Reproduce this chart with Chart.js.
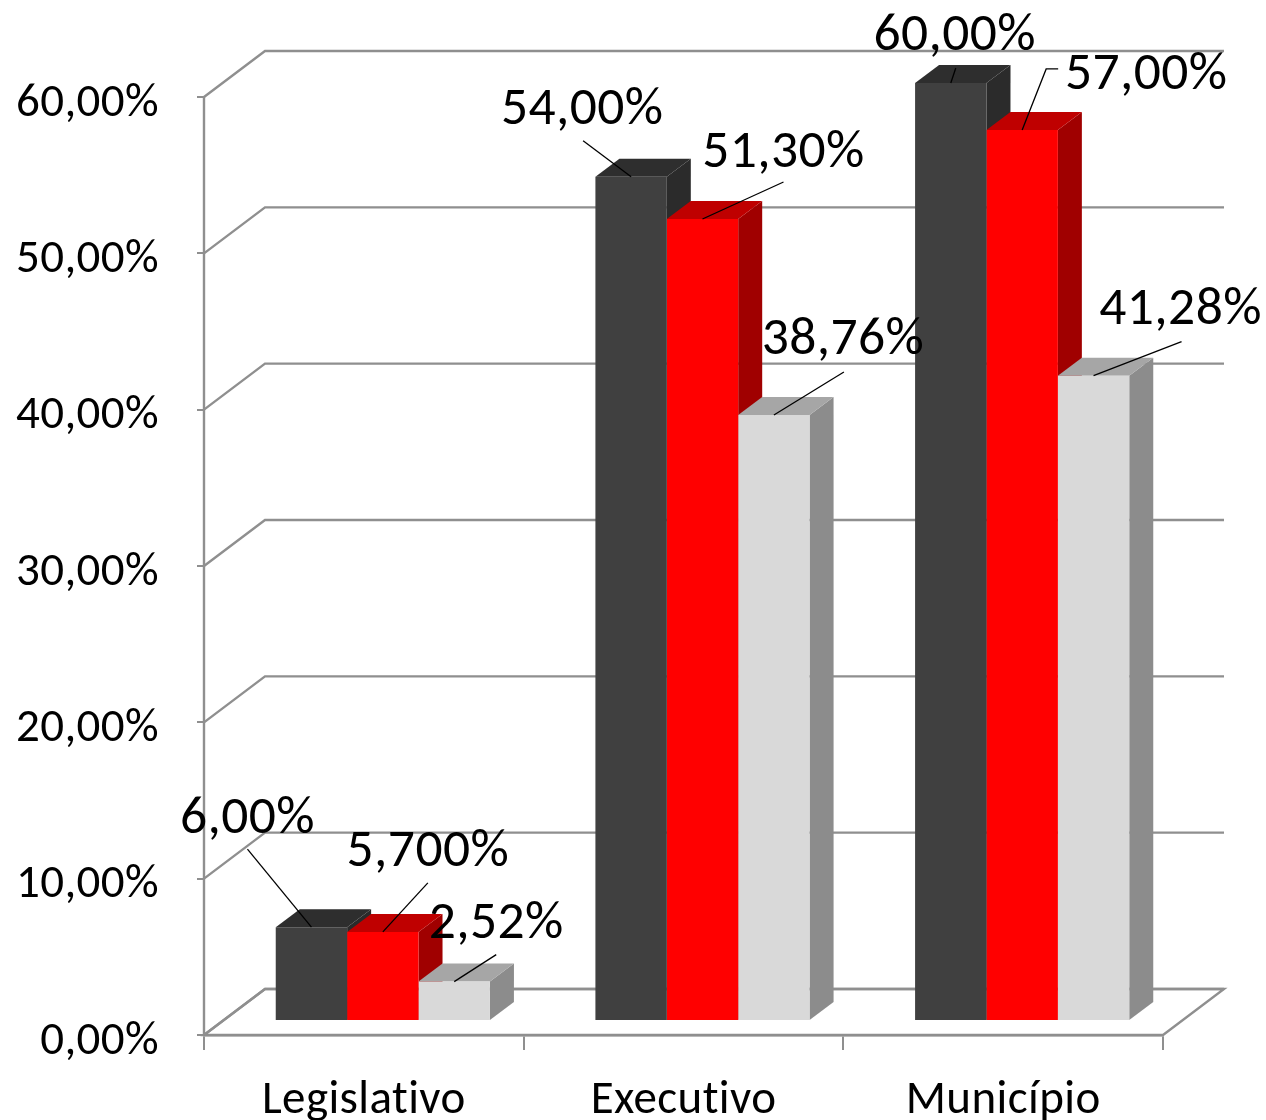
<!DOCTYPE html>
<html><head><meta charset="utf-8">
<style>html,body{margin:0;padding:0;background:#fff}#w{width:1266px;height:1120px}</style>
<script src="https://cdn.jsdelivr.net/npm/chart.js@4"></script>
</head><body><div id="w"><canvas id="c"></canvas></div>
<script>
const categories = ["Legislativo", "Executivo", "Município"];
const seriesA = [6.00, 54.00, 60.00];
const seriesB = [5.70, 51.30, 57.00];
const seriesC = [2.52, 38.76, 41.28];
const labelsA = ["6,00%", "54,00%", "60,00%"];
const labelsB = ["5,700%", "51,30%", "57,00%"];
const labelsC = ["2,52%", "38,76%", "41,28%"];

const FONT = 'Carlito, Lato, "Open Sans", sans-serif';
const COL = [
  {front:"#404040", top:"#2e2e2e", side:"#2b2b2b"},
  {front:"#ff0000", top:"#bf0000", side:"#a00000"},
  {front:"#d9d9d9", top:"#a6a6a6", side:"#8c8c8c"}
];
const WALL = {dx:61, dy:-46};      // depth of the floor
const BAR = {sx:19, sy:-14, dx:24, dy:-18}; // bar placement in the depth
const GRID = "#8f8f8f";

// label centre and leader elbow, relative to the top-centre of the bar's front face; [series][category]
const labelPlace = [
  [{lx:-64,ly:-108,ex:-64,ey:-78},{lx:-49,ly:-66,ex:-48,ey:-36},{lx:4,ly:-46,ex:5,ey:-15}],
  [{lx:45,ly:-79,ex:45,ey:-49},{lx:81,ly:-65,ex:81,ey:-37},{lx:124,ly:-54,ex:24,ey:-61,fx:36}],
  [{lx:42,ly:-57,ex:42,ey:-27},{lx:69,ly:-74,ex:70,ey:-43},{lx:87,ly:-65,ex:88,ey:-34}]
];
const place = (cat,ds)=>labelPlace[ds][cat];

const threeD = {
  id:"threeD",
  beforeDraw(chart){ chart.ctx.letterSpacing="0.4px"; },
  beforeDatasetsDraw(chart){
    const {ctx,scales:{x,y}} = chart;
    const l=x.left, r=x.right, b=y.bottom;
    ctx.save();
    ctx.strokeStyle=GRID; ctx.lineWidth=2.4; ctx.lineCap="butt";
    // floor
    ctx.beginPath();
    ctx.moveTo(l,b); ctx.lineTo(l+WALL.dx,b+WALL.dy); ctx.lineTo(r+WALL.dx,b+WALL.dy); ctx.lineTo(r,b); ctx.closePath();
    ctx.stroke();
    // wall gridlines
    y.ticks.forEach(t=>{
      const p=y.getPixelForValue(t.value);
      ctx.beginPath(); ctx.moveTo(l,p); ctx.lineTo(l+WALL.dx,p+WALL.dy); ctx.lineTo(r+WALL.dx,p+WALL.dy); ctx.stroke();
    });
    // front vertical edge
    ctx.beginPath();
    ctx.moveTo(l,y.top); ctx.lineTo(l,b);
    ctx.stroke();
    // side and top faces of every bar, behind all the front faces
    ctx.translate(BAR.sx,BAR.sy);
    [0,1,2].forEach(ds=>{
      const c=COL[ds];
      chart.getDatasetMeta(ds).data.forEach(e=>{
        const p=e.getProps(["x","y","base","width"],true);
        const L=p.x-p.width/2, R=p.x+p.width/2, T=p.y, B=p.base;
        ctx.fillStyle=c.side;
        ctx.beginPath(); ctx.moveTo(R,T); ctx.lineTo(R+BAR.dx,T+BAR.dy); ctx.lineTo(R+BAR.dx,B+BAR.dy); ctx.lineTo(R,B); ctx.closePath(); ctx.fill();
        ctx.fillStyle=c.top;
        ctx.beginPath(); ctx.moveTo(L,T); ctx.lineTo(L+BAR.dx,T+BAR.dy); ctx.lineTo(R+BAR.dx,T+BAR.dy); ctx.lineTo(R,T); ctx.closePath(); ctx.fill();
      });
    });
    ctx.restore();
  },
  beforeDatasetDraw(chart){ chart.ctx.save(); chart.ctx.translate(BAR.sx,BAR.sy); },
  afterDatasetDraw(chart){ chart.ctx.restore(); },
  afterDraw(chart){
    const {ctx}=chart;
    const text=[labelsA,labelsB,labelsC];
    ctx.save();
    ctx.font='53.5px '+FONT; ctx.textAlign="center"; ctx.textBaseline="middle";
    [0,1,2].forEach(ds=>{
      chart.getDatasetMeta(ds).data.forEach((e,i)=>{
        const p=e.getProps(["x","y"],true), ax=p.x+BAR.sx, ay=p.y+BAR.sy, m=place(i,ds);
        ctx.strokeStyle="#000"; ctx.lineWidth=1.3;
        ctx.beginPath(); ctx.moveTo(ax,ay); ctx.lineTo(ax+m.ex,ay+m.ey);
        if(m.fx) ctx.lineTo(ax+m.fx,ay+m.ey);
        ctx.stroke();
        ctx.fillStyle="#000";
        ctx.fillText(text[ds][i],ax+m.lx,ay+m.ly);
      });
    });
    ctx.restore();
  }
};

const mk=(data,i)=>({label:"s"+i,data,backgroundColor:COL[i].front,borderWidth:0,clip:false,
  barPercentage:1,categoryPercentage:0.67});

new Chart(document.getElementById("c"),{
  type:"bar",
  data:{labels:categories,datasets:[mk(seriesA,0),mk(seriesB,1),mk(seriesC,2)]},
  plugins:[threeD],
  options:{
    responsive:true,maintainAspectRatio:false,animation:false,
    layout:{padding:{top:97,right:103,left:0,bottom:0}},
    plugins:{legend:{display:false},title:{display:false},tooltip:{enabled:false}},
    scales:{
      x:{
        afterFit(s){s.height=85;},
        grid:{display:true,drawOnChartArea:false,drawTicks:true,tickLength:15,color:GRID,lineWidth:2,offset:true},
        border:{display:true,color:GRID,width:2.4},
        ticks:{color:"#000",font:{family:FONT,size:47},padding:23,maxRotation:0}
      },
      y:{
        min:0,max:60,
        afterFit(s){s.width=204;},
        grid:{display:true,drawOnChartArea:false,drawTicks:true,tickLength:7,color:GRID,lineWidth:2},
        border:{display:false},
        ticks:{stepSize:10,color:"#000",font:{family:FONT,size:47},padding:38,labelOffset:7,
          callback:v=>v.toFixed(2).replace(".",",")+"%"}
      }
    }
  }
});
</script></body></html>
